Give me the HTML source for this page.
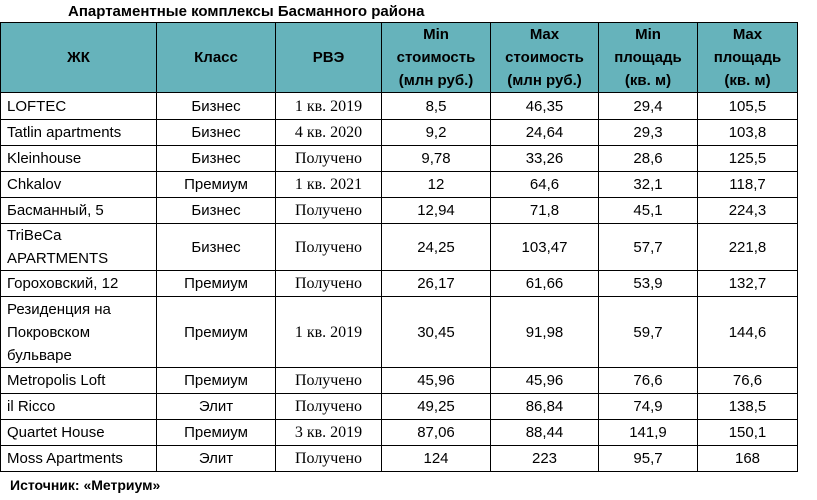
<!DOCTYPE html>
<html><head><meta charset="utf-8"><style>
body{margin:0;width:817px;height:500px;background:#fff;position:relative;overflow:hidden;font-family:"Liberation Sans","DejaVu Sans",sans-serif;}
.title{position:absolute;left:68px;top:3px;font-size:15px;font-weight:bold;color:#000;}
.src{position:absolute;left:10px;top:477px;font-size:14px;font-weight:bold;color:#000;}
table{position:absolute;left:0;top:22px;border-collapse:collapse;table-layout:fixed;width:798px;}
td,th{border:1px solid #000;padding:0 6px;font-size:15px;color:#000;line-height:23px;overflow:hidden;}
th{background:#66b3bb;font-weight:bold;font-size:15px;line-height:23px;text-align:center;height:69px;padding:0 2px;}
td{text-align:center;height:25px;}
td.n{text-align:left;padding-left:6px;}
td.r{font-family:"Liberation Serif","DejaVu Serif",serif;font-size:16px;}
</style></head><body>
<div class="title">Апартаментные комплексы Басманного района</div>
<table>
<colgroup><col style="width:156px"><col style="width:119px"><col style="width:106px"><col style="width:109px"><col style="width:108px"><col style="width:99px"><col style="width:100px"></colgroup>
<tr>
<th>ЖК</th>
<th>Класс</th>
<th>РВЭ</th>
<th>Min стоимость (млн руб.)</th>
<th>Max стоимость (млн руб.)</th>
<th>Min площадь (кв. м)</th>
<th>Max площадь (кв. м)</th>
</tr>
<tr style="height:27px"><td class="n">LOFTEC</td><td>Бизнес</td><td class="r">1 кв. 2019</td><td>8,5</td><td>46,35</td><td>29,4</td><td>105,5</td></tr>
<tr><td class="n">Tatlin apartments</td><td>Бизнес</td><td class="r">4 кв. 2020</td><td>9,2</td><td>24,64</td><td>29,3</td><td>103,8</td></tr>
<tr><td class="n">Kleinhouse</td><td>Бизнес</td><td class="r">Получено</td><td>9,78</td><td>33,26</td><td>28,6</td><td>125,5</td></tr>
<tr><td class="n">Chkalov</td><td>Премиум</td><td class="r">1 кв. 2021</td><td>12</td><td>64,6</td><td>32,1</td><td>118,7</td></tr>
<tr><td class="n">Басманный, 5</td><td>Бизнес</td><td class="r">Получено</td><td>12,94</td><td>71,8</td><td>45,1</td><td>224,3</td></tr>
<tr><td class="n" style="height:46px">TriBeCa APARTMENTS</td><td>Бизнес</td><td class="r">Получено</td><td>24,25</td><td>103,47</td><td>57,7</td><td>221,8</td></tr>
<tr><td class="n">Гороховский, 12</td><td>Премиум</td><td class="r">Получено</td><td>26,17</td><td>61,66</td><td>53,9</td><td>132,7</td></tr>
<tr><td class="n" style="height:70px">Резиденция на Покровском бульваре</td><td>Премиум</td><td class="r">1 кв. 2019</td><td>30,45</td><td>91,98</td><td>59,7</td><td>144,6</td></tr>
<tr><td class="n">Metropolis Loft</td><td>Премиум</td><td class="r">Получено</td><td>45,96</td><td>45,96</td><td>76,6</td><td>76,6</td></tr>
<tr><td class="n">il Ricco</td><td>Элит</td><td class="r">Получено</td><td>49,25</td><td>86,84</td><td>74,9</td><td>138,5</td></tr>
<tr><td class="n">Quartet House</td><td>Премиум</td><td class="r">3 кв. 2019</td><td>87,06</td><td>88,44</td><td>141,9</td><td>150,1</td></tr>
<tr><td class="n">Moss Apartments</td><td>Элит</td><td class="r">Получено</td><td>124</td><td>223</td><td>95,7</td><td>168</td></tr>
</table>
<div class="src">Источник: «Метриум»</div>
</body></html>
